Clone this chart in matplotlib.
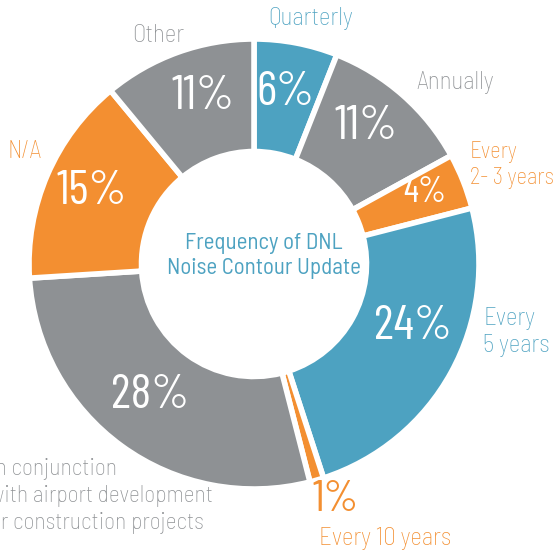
import matplotlib
matplotlib.use("Agg")
import matplotlib.pyplot as plt

# ----------------------------------------
# Data
# ----------------------------------------
categories = ["Quarterly", "Annually", "Every\n2- 3 years", "Every\n5 years",
              "Every 10 years", "In conjunction\nwith airport development\nor construction projects",
              "N/A", "Other"]
shares = [6, 11, 4, 24, 1, 28, 15, 11]
pct_labels = ["6%", "11%", "4%", "24%", "1%", "28%", "15%", "11%"]

BLUE = "#4da2c1"
GRAY = "#8e9194"
ORANGE = "#f38f31"
slice_colors = [BLUE, GRAY, ORANGE, BLUE, ORANGE, GRAY, ORANGE, GRAY]

plt.rcParams["font.family"] = ["Barlow Semi Condensed", "DejaVu Sans"]

# ----------------------------------------
# Figure (axes in pixel units, y up)
# ----------------------------------------
W, H = 559, 552
fig = plt.figure(figsize=(W / 100, H / 100), dpi=100)
ax = fig.add_axes([0, 0, 1, 1])

cx, cy, R = 254, H - 264, 225
ax.pie(shares, colors=slice_colors, startangle=90, counterclock=False,
       center=(cx, cy), radius=R, frame=True,
       wedgeprops=dict(width=R * 0.5, edgecolor="white", linewidth=4))
ax.set_xlim(0, W)
ax.set_ylim(0, H)
ax.axis("off")

def px(x, y):
    return x, H - y

# percentages
pct_pos = [(285, 93), (366, 127), (425, 193), (413, 327),
           (336, 500), (150, 396), (92, 192), (203, 97)]
pct_size = [35, 35, 26, 35, 32, 35, 35, 35]
for i, lab in enumerate(pct_labels):
    col = ORANGE if lab == "1%" else "white"
    ax.text(*px(*pct_pos[i]), lab, color=col, fontsize=pct_size[i],
            ha="center", va="center", family=["Barlow Condensed", "DejaVu Sans"],
            fontweight="normal")

# outer labels
label_pos = [(311, 19, "center"), (455, 82, "center"), (470, 165, "left"),
             (483, 332, "left"), (319, 539, "left"), (-10, 496, "left"),
             (25, 152, "center"), (158, 35, "center")]
label_col = [BLUE, GRAY, ORANGE, BLUE, ORANGE, GRAY, ORANGE, GRAY]
label_size = [18, 18, 16.5, 18, 18, 17, 18, 18]
for i, lab in enumerate(categories):
    x, y, ha = label_pos[i]
    ax.text(*px(x, y), lab, color=label_col[i], fontsize=label_size[i], ha=ha,
            va="center", linespacing=1.3 if i == 5 else 1.2, fontweight="light")

# center title
ax.text(*px(264, 256), "Frequency of DNL\nNoise Contour Update", color=BLUE,
        fontsize=16.5, ha="center", va="center", linespacing=1.3)

fig.savefig("out.png", dpi=100)
